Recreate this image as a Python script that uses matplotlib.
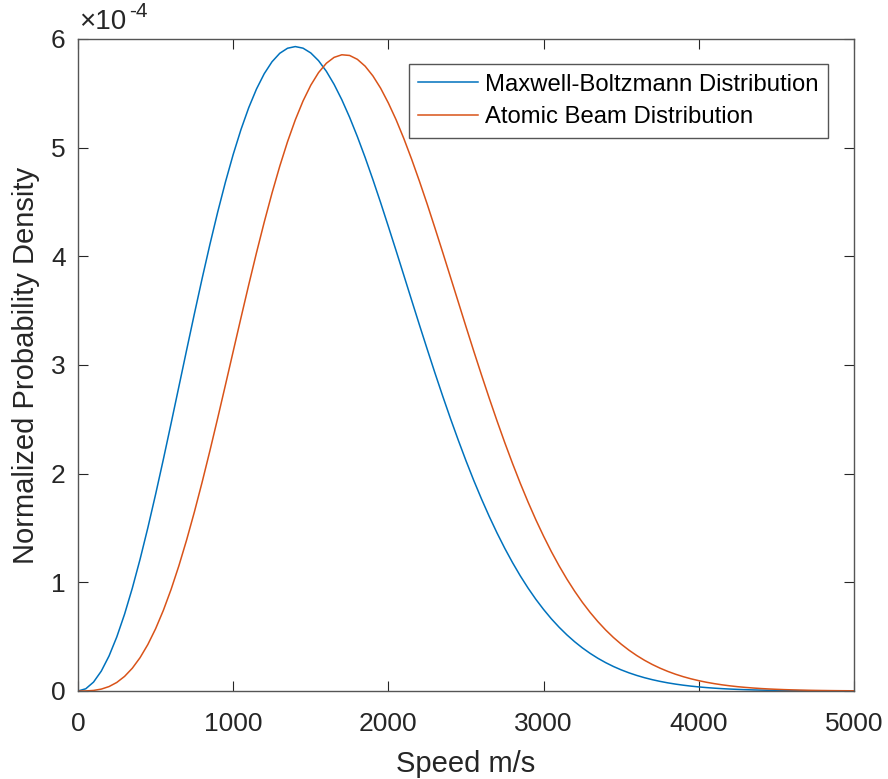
import numpy as np
import matplotlib

matplotlib.use("Agg")
import matplotlib.pyplot as plt

# speed grid (m/s) and densities (units of 1e-4)
speed = list(range(0, 5001, 50))
maxwell = [
    0.0, 0.0205, 0.0818, 0.1829, 0.3223, 0.4979, 0.7070, 0.9465, 1.2128, 1.5020,
    1.8099, 2.1321, 2.4640, 2.8012, 3.1386, 3.4720, 3.7974, 4.1101, 4.4068, 4.6837,
    4.9378, 5.1665, 5.3678, 5.5396, 5.6807, 5.7904, 5.8685, 5.9149, 5.9303, 5.9156,
    5.8715, 5.8004, 5.7033, 5.5827, 5.4407, 5.2796, 5.1017, 4.9101, 4.7066, 4.4938,
    4.2735, 4.0500, 3.8228, 3.5949, 3.3685, 3.1457, 2.9262, 2.7133, 2.5070, 2.3090,
    2.1185, 1.9376, 1.7668, 1.6055, 1.4541, 1.3125, 1.1810, 1.0590, 0.9469, 0.8439,
    0.7501, 0.6642, 0.5868, 0.5166, 0.4534, 0.3966, 0.3460, 0.3009, 0.2609, 0.2255,
    0.1945, 0.1672, 0.1433, 0.1224, 0.1043, 0.0886, 0.0750, 0.0634, 0.0534, 0.0448,
    0.0375, 0.0313, 0.0261, 0.0216, 0.0179, 0.0148, 0.0122, 0.0100, 0.0082, 0.0067,
    0.0054, 0.0044, 0.0036, 0.0029, 0.0023, 0.0019, 0.0015, 0.0012, 0.0009, 0.0008,
    0.0006,
]
beam = [
    0.0, 0.0007, 0.0052, 0.0174, 0.0408, 0.0788, 0.1343, 0.2097, 0.3071, 0.4278,
    0.5728, 0.7423, 0.9358, 1.1525, 1.3907, 1.6483, 1.9230, 2.2115, 2.5105, 2.8165,
    3.1257, 3.4340, 3.7377, 4.0326, 4.3151, 4.5817, 4.8292, 5.0546, 5.2554, 5.4297,
    5.5750, 5.6910, 5.7764, 5.8309, 5.8548, 5.8485, 5.8129, 5.7500, 5.6606, 5.5470,
    5.4102, 5.2555, 5.0817, 4.8925, 4.6910, 4.4803, 4.2602, 4.0362, 3.8086, 3.5809,
    3.3525, 3.1276, 2.9077, 2.6932, 2.4853, 2.2848, 2.0932, 1.9106, 1.7383, 1.5759,
    1.4245, 1.2825, 1.1514, 1.0300, 0.9184, 0.8158, 0.7227, 0.6381, 0.5614, 0.4925,
    0.4309, 0.3757, 0.3265, 0.2828, 0.2442, 0.2103, 0.1805, 0.1544, 0.1317, 0.1120,
    0.0950, 0.0803, 0.0677, 0.0568, 0.0476, 0.0397, 0.0331, 0.0275, 0.0227, 0.0188,
    0.0155, 0.0127, 0.0104, 0.0085, 0.0069, 0.0056, 0.0045, 0.0036, 0.0029, 0.0024,
    0.0019,
]
labels = ["Maxwell-Boltzmann Distribution", "Atomic Beam Distribution"]
colors = ["#0072BD", "#D95319"]
x_ticks = [0, 1000, 2000, 3000, 4000, 5000]
y_ticks = [0, 1, 2, 3, 4, 5, 6]

plt.rcParams["font.family"] = ["Liberation Sans", "DejaVu Sans"]
AX_COL = "#262626"

fig = plt.figure(figsize=(8.88, 7.79), dpi=100)
ax = fig.add_axes([78 / 888, 1 - 691 / 779, (854 - 78) / 888, (691 - 39) / 779])

for ys, lab, col in zip([maxwell, beam], labels, colors):
    ax.plot(speed, ys, color=col, lw=1.1, label=lab)

ax.set_xlim(0, 5000)
ax.set_ylim(0, 6)
ax.set_xticks(x_ticks)
ax.set_yticks(y_ticks)
ax.tick_params(direction="in", length=7, width=0.8, top=True, right=True,
               labelsize=19, colors=AX_COL)
ax.tick_params(axis="x", pad=15)
ax.tick_params(axis="y", pad=9)
for sp in ax.spines.values():
    sp.set_color("#555555")
    sp.set_linewidth(1.0)

ax.set_xlabel("Speed m/s", fontsize=21, color=AX_COL, labelpad=10)
ax.set_ylabel("Normalized Probability Density", fontsize=21, color=AX_COL, labelpad=8)

# MATLAB-style exponent label
ax.text(0.002, 1.006, "\u00d710", transform=ax.transAxes,
        fontsize=20, color=AX_COL, ha="left", va="bottom")
ax.annotate("-4", xy=(0.002, 1.006), xycoords="axes fraction",
            xytext=(36, 10), textcoords="offset points",
            fontsize=15, color=AX_COL, ha="left", va="bottom")

leg = ax.legend(loc="upper right", fontsize=17.2, frameon=True, fancybox=False,
                borderpad=0.4, borderaxespad=0, handlelength=2.5,
                handletextpad=0.3, labelspacing=0.45)
leg.set_bbox_to_anchor(((828 - 78) / (854 - 78), (691 - 64) / (691 - 39)),
                       transform=ax.transAxes)
leg.get_frame().set_edgecolor("#555555")
leg.get_frame().set_linewidth(1.0)
leg.get_frame().set_alpha(1)

fig.savefig("out.png", dpi=100)
